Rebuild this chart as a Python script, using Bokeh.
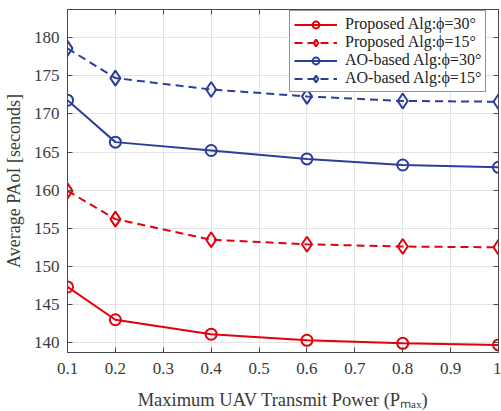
from bokeh.plotting import figure
from bokeh.models import ColumnDataSource, FixedTicker, LinearAxis, Range1d, Legend
from bokeh.embed import file_html
from bokeh.resources import INLINE

power = [0.1, 0.2, 0.4, 0.6, 0.8, 1.0]
proposed_30 = [147.3, 143.0, 141.1, 140.3, 139.9, 139.7]
proposed_15 = [159.9, 156.2, 153.5, 152.9, 152.6, 152.5]
ao_30 = [171.8, 166.3, 165.2, 164.1, 163.3, 163.0]
ao_15 = [178.6, 174.7, 173.2, 172.3, 171.7, 171.6]

series_labels = ["Proposed Alg:\u03d5=30\u00b0", "Proposed Alg:\u03d5=15\u00b0",
                 "AO-based Alg:\u03d5=30\u00b0", "AO-based Alg:\u03d5=15\u00b0"]
x_ticks = [0.1, 0.2, 0.3, 0.4, 0.5, 0.6, 0.7, 0.8, 0.9, 1.0]
x_tick_labels = ["0.1", "0.2", "0.3", "0.4", "0.5", "0.6", "0.7", "0.8", "0.9", "1"]
y_ticks = [140, 145, 150, 155, 160, 165, 170, 175, 180]

RED = "#e3000f"
BLUE = "#2d3e98"
FONT = "Liberation Serif"
TXT = "#3a3a3a"
AX = "#4a4a4a"

p = figure(width=501, height=412, output_backend="svg", toolbar_location=None,
           x_range=Range1d(0.1, 1.0), y_range=Range1d(138.7, 183.7),
           min_border_left=55, min_border_right=3, min_border_top=9, min_border_bottom=50)
p.outline_line_color = AX
p.outline_line_width = 1

styles = [
    (proposed_30, RED, "solid", "circle"),
    (proposed_15, RED, "8 5", "diamond"),
    (ao_30, BLUE, "solid", "circle"),
    (ao_15, BLUE, "8 5", "diamond"),
]
items = []
for (vals, col, dash, mk), lab in zip(styles, series_labels):
    src = ColumnDataSource(dict(x=power, y=vals))
    l = p.line("x", "y", source=src, line_color=col, line_width=2, line_dash=dash)
    s = p.scatter("x", "y", source=src, marker=mk, size=11 if mk == "circle" else 15,
                  line_color=col, line_width=2, fill_color="white", fill_alpha=0.0)
    items.append((lab, [l, s]))

legend = Legend(items=items, location=(222, 260))
legend.label_text_font = FONT
legend.label_text_font_size = "16px"
legend.label_text_color = "#222222"
legend.glyph_width = 43
legend.glyph_height = 17
legend.label_height = 17
legend.label_standoff = 8
legend.spacing = 0
legend.padding = 4
legend.margin = 0
legend.border_line_color = "#262626"
legend.border_line_width = 1
legend.background_fill_color = "white"
legend.background_fill_alpha = 1.0
p.add_layout(legend, "center")

xt = FixedTicker(ticks=x_ticks)
yt = FixedTicker(ticks=y_ticks)
p.xaxis.ticker = xt
p.yaxis.ticker = yt
p.xaxis.major_label_overrides = {t: s for t, s in zip(x_ticks, x_tick_labels)}
p.xaxis.axis_label = "Maximum UAV Transmit Power (P\u2098\u2090\u2093)"
p.yaxis.axis_label = "Average PAoI [seconds]"

for ax in [p.xaxis[0], p.yaxis[0]]:
    ax.axis_line_color = AX
    ax.major_tick_line_color = AX
    ax.major_tick_in = 5
    ax.major_tick_out = 0
    ax.minor_tick_line_color = None
    ax.major_label_text_font = FONT
    ax.major_label_text_font_size = "17px"
    ax.major_label_text_color = TXT
    ax.axis_label_text_font = FONT
    ax.axis_label_text_font_style = "normal"
    ax.axis_label_text_color = TXT
p.xaxis.axis_label_text_font_size = "18.5px"
p.yaxis.axis_label_text_font_size = "18px"
p.yaxis.major_label_standoff = 8
p.yaxis.axis_label_standoff = 7
p.xaxis.major_label_standoff = 10
p.xaxis.axis_label_standoff = 13

right = LinearAxis(ticker=yt, major_label_text_font_size="0px", major_tick_in=5, major_tick_out=0,
                   minor_tick_line_color=None, axis_line_color=AX, major_tick_line_color=AX)
top = LinearAxis(ticker=xt, major_label_text_font_size="0px", major_tick_in=5, major_tick_out=0,
                 minor_tick_line_color=None, axis_line_color=AX, major_tick_line_color=AX)
right.major_label_text_alpha = 0
top.major_label_text_alpha = 0
right.major_label_standoff = 0
top.major_label_standoff = 0
p.add_layout(right, "right")
p.add_layout(top, "above")

p.xgrid.grid_line_color = "#e4e4e4"
p.ygrid.grid_line_color = "#e4e4e4"
p.xgrid.ticker = xt
p.ygrid.ticker = yt

open("out.html", "w").write(file_html(p, INLINE))
